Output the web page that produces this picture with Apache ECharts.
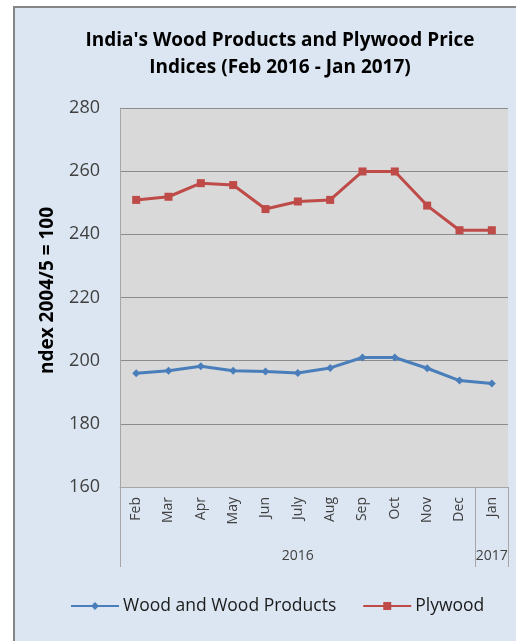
<!DOCTYPE html>
<html>
<head>
<meta charset="utf-8">
<script src="https://cdn.jsdelivr.net/npm/echarts@6.0.0/dist/echarts.min.js"></script>
<style>
  html, body { margin: 0; padding: 0; background: #ffffff; overflow: hidden; }
  #frame {
    position: absolute; left: 13px; top: 6px; width: 620px; height: 700px;
    background: #dce6f2; border-left: 2px solid #868686; border-top: 2px solid #868686;
  }
  #chart { position: absolute; left: 0; top: 0; width: 516px; height: 641px; }
</style>
</head>
<body>
<div id="frame"></div>
<div id="chart"></div>
<script>
// months Feb 2016 - Jan 2017
const months = ["Feb", "Mar", "Apr", "May", "Jun", "July", "Aug", "Sep", "Oct", "Nov", "Dec", "Jan"];
const woodProducts = [196, 196.8, 198.2, 196.8, 196.6, 196.1, 197.7, 201, 201, 197.6, 193.7, 192.8];
const plywood = [250.9, 251.9, 256.2, 255.6, 248, 250.4, 250.9, 259.9, 259.9, 249.1, 241.3, 241.3];
const yearLabels = ["2016", "2017"];

const font = "'Open Sans', sans-serif";
const chart = echarts.init(document.getElementById("chart"));
const option = {
  backgroundColor: "transparent",
  textStyle: { fontFamily: font },
  title: {
    text: "India's Wood Products and Plywood Price\nIndices (Feb 2016 - Jan 2017)",
    left: 275,
    textAlign: "center",
    top: 22,
    textStyle: { fontFamily: font, fontSize: 19, fontWeight: "bold", color: "#000", lineHeight: 27 }
  },
  legend: {
    left: 65,
    top: 592,
    itemWidth: 48,
    itemHeight: 10,
    itemGap: 26,
    textStyle: { fontFamily: font, fontSize: 17.5, color: "#1a1a1a", padding: [0, 0, 0, -1] },
    data: ["Wood and Wood Products", "Plywood"]
  },
  grid: {
    left: 120, top: 108, width: 388, height: 379,
    show: true, backgroundColor: "#d9d9d9", borderWidth: 0
  },
  xAxis: [
    {
      type: "category",
      data: months,
      boundaryGap: true,
      axisLine: { show: true, lineStyle: { color: "#a6a6a6", width: 1 } },
      axisTick: { show: false },
      axisLabel: { rotate: 90, margin: 10, interval: 0, fontSize: 14, color: "#404040", fontFamily: font }
    },
    {
      type: "value",
      position: "bottom",
      min: 0, max: 12,
      axisLine: { show: false },
      splitLine: { show: false },
      axisTick: { show: true, inside: false, length: 80, customValues: [0, 11, 12], lineStyle: { color: "#a6a6a6" } },
      axisLabel: {
        customValues: [5.5, 11.5],
        margin: 62,
        fontSize: 14, color: "#404040", fontFamily: font,
        formatter: (v) => (v < 11 ? yearLabels[0] : yearLabels[1])
      }
    }
  ],
  yAxis: {
    type: "value",
    min: 160, max: 280, interval: 20,
    name: "ndex 2004/5 = 100",
    nameLocation: "middle",
    nameGap: 63,
    nameTextStyle: { fontFamily: font, fontSize: 19, fontWeight: "bold", color: "#000", padding: [0, 0, 0, 14] },
    axisLine: { show: true, lineStyle: { color: "#a6a6a6" } },
    axisTick: { show: false },
    axisLabel: { margin: 20, fontSize: 18, color: "#404040", fontFamily: font },
    splitLine: { show: true, lineStyle: { color: "#8c8c8c", width: 1 } }
  },
  series: [
    {
      name: "Wood and Wood Products",
      type: "line",
      data: woodProducts,
      symbol: "diamond",
      symbolSize: 8,
      lineStyle: { color: "#4a7ebb", width: 3 },
      itemStyle: { color: "#4a7ebb" }
    },
    {
      name: "Plywood",
      type: "line",
      data: plywood,
      symbol: "rect",
      symbolSize: 8,
      lineStyle: { color: "#be4b48", width: 3 },
      itemStyle: { color: "#be4b48" }
    }
  ]
};
chart.setOption(option);
</script>
</body>
</html>
